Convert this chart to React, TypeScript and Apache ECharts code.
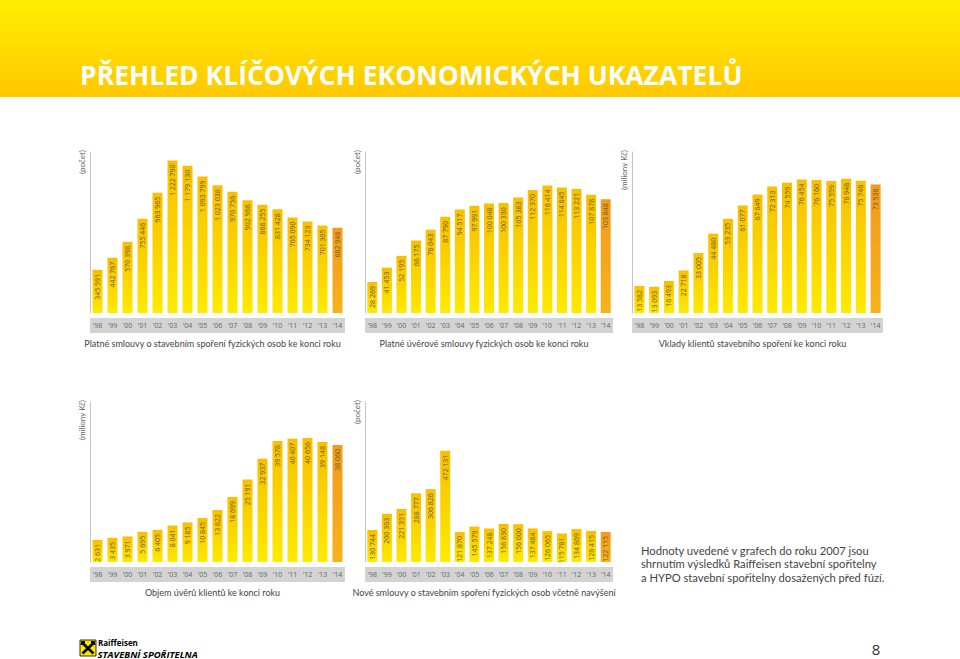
import React, { useEffect, useRef } from "react";
import * as echarts from "echarts";

const years = ["'98", "'99", "'00", "'01", "'02", "'03", "'04", "'05", "'06", "'07", "'08", "'09", "'10", "'11", "'12", "'13", "'14"];
const contracts = [345591, 442767, 570398, 755446, 963965, 1222790, 1179130, 1093799, 1023038, 970756, 902966, 868255, 831428, 765090, 734123, 701305, 682946];
const loanContracts = [28269, 41453, 52195, 66175, 76043, 87790, 94517, 97991, 100048, 100330, 105383, 112370, 116414, 114645, 113221, 107878, 103848];
const deposits = [13582, 13093, 16493, 22718, 33005, 44480, 53235, 61077, 67649, 72313, 74559, 76454, 76160, 75559, 76948, 75746, 73536];
const loanVolume = [2631, 3435, 3971, 5695, 6405, 8041, 9185, 10845, 13822, 18699, 25191, 32937, 39578, 40407, 40656, 39148, 38060];
const newContracts = [130744, 200363, 221351, 288777, 306826, 472131, 121870, 145579, 137248, 156830, 156000, 137484, 126065, 115781, 134869, 126415, 122115];

const units = ["(počet)", "(počet)", "(miliony Kč)", "(miliony Kč)", "(počet)"];
const captions = [
  "Platné smlouvy o stavebním spoření fyzických osob ke konci roku",
  "Platné úvěrové smlouvy fyzických osob ke konci roku",
  "Vklady klientů stavebního spoření ke konci roku",
  "Objem úvěrů klientů ke konci roku",
  "Nové smlouvy o stavebním spoření fyzických osob včetně navýšení",
];
const title = "PŘEHLED KLÍČOVÝCH EKONOMICKÝCH UKAZATELŮ";
const noteLines = [
  "Hodnoty uvedené v grafech do roku 2007 jsou",
  "shrnutím výsledků Raiffeisen stavební spořitelny",
  "a HYPO stavební spořitelny dosažených před fúzí.",
];

const seriesData = [contracts, loanContracts, deposits, loanVolume, newContracts];
const axisMin = [0, 0, -2400, -5560, -7000];
const axisMax = [1290000, 147000, 92700, 54100, 682000];
const layout = [
  { left: 90, top: 152, width: 255, height: 161 },
  { left: 365, top: 152, width: 248, height: 161 },
  { left: 632, top: 152, width: 251, height: 161 },
  { left: 90, top: 402, width: 255, height: 160 },
  { left: 365, top: 402, width: 248, height: 160 },
];

const FONT = '"Open Sans", "DejaVu Sans", sans-serif';
const LIGHT = 'Lato, "Open Sans", sans-serif';
const fmt = (v: number) => String(v).replace(/\B(?=(\d{3})+(?!\d))/g, " ");

export default function App() {
  const ref = useRef<HTMLDivElement>(null);
  useEffect(() => {
    if (!ref.current) return;
    const chart = echarts.init(ref.current, undefined, { renderer: "svg" });
    const yellow = new echarts.graphic.LinearGradient(0, 0, 0, 1, [
      { offset: 0, color: "#F8BF00" },
      { offset: 1, color: "#FFEA00" },
    ]);
    const orange = new echarts.graphic.LinearGradient(0, 0, 0, 1, [
      { offset: 0, color: "#F39A1E" },
      { offset: 1, color: "#F7B21A" },
    ]);

    const grids = layout.map((l) => ({ left: l.left, top: l.top, width: l.width, height: l.height }));
    const xAxes = layout.map((_, i) => ({
      type: "category" as const,
      gridIndex: i,
      data: years,
      offset: 12,
      axisTick: { show: false },
      axisLine: { show: true, onZero: false, lineStyle: { color: "#d3d3d3", width: 15, cap: "butt" } },
      axisLabel: { fontSize: 7, color: "#666", margin: 0, verticalAlign: "middle", fontFamily: FONT, interval: 0 },
    }));
    const yAxes = layout.map((_, i) => ({
      type: "value" as const,
      gridIndex: i,
      min: axisMin[i],
      max: axisMax[i],
      startValue: axisMin[i],
      axisLine: { show: true, onZero: false, lineStyle: { color: "#c4c4c4", width: 1 } },
      axisTick: { show: false },
      axisLabel: { show: false },
      splitLine: { show: false },
    }));
    const series = seriesData.map((d, i) => ({
      type: "bar" as const,
      xAxisIndex: i,
      yAxisIndex: i,
      barWidth: 10,
      itemStyle: { color: yellow },
      data: d.map((v, j) => (j === d.length - 1 ? { value: v, itemStyle: { color: orange } } : v)),
      label: {
        show: true,
        position: "insideTop",
        rotate: 90,
        align: "right",
        verticalAlign: "middle",
        distance: 4,
        fontSize: 7,
        color: "#6e6218",
        fontFamily: FONT,
        formatter: (p: any) => fmt(p.value),
      },
    }));

    const graphics: any[] = [
      {
        type: "rect",
        shape: { x: 0, y: 0, width: 960, height: 97 },
        style: {
          fill: new echarts.graphic.LinearGradient(0, 0, 0, 1, [
            { offset: 0, color: "#FFEE00" },
            { offset: 1, color: "#FFC800" },
          ]),
        },
        silent: true,
      },
      {
        type: "text",
        x: 80,
        y: 75,
        style: { text: title, fill: "#ffffff", fontSize: 26.5, fontWeight: "bold", fontFamily: FONT, verticalAlign: "middle" },
      },
    ];
    layout.forEach((l, i) => {
      graphics.push({
        type: "text",
        x: l.left - 4,
        y: l.top - 2,
        rotation: Math.PI / 2,
        style: { text: units[i], fill: "#666", fontSize: 8, fontFamily: LIGHT, align: "right", verticalAlign: "bottom" },
      });
      graphics.push({
        type: "text",
        x: l.left + l.width / 2 - 5,
        y: l.top + l.height + 30,
        style: { text: captions[i], fill: "#444", fontSize: 9, fontFamily: LIGHT, align: "center", verticalAlign: "middle" },
      });
    });
    noteLines.forEach((t, k) => {
      graphics.push({
        type: "text",
        x: 641,
        y: 550 + k * 13.5,
        style: { text: t, fill: "#444", fontSize: 11.2, fontFamily: LIGHT, verticalAlign: "middle" },
      });
    });
    // logo
    graphics.push(
      { type: "rect", shape: { x: 80, y: 640, width: 16, height: 16 }, style: { fill: "#FFE600", stroke: "#000", lineWidth: 0.8 } },
      { type: "line", shape: { x1: 82.5, y1: 653.5, x2: 93.5, y2: 643 }, style: { stroke: "#000", lineWidth: 2.6 } },
      { type: "line", shape: { x1: 82.5, y1: 643, x2: 93.5, y2: 653.5 }, style: { stroke: "#000", lineWidth: 2.6 } },
      { type: "polyline", shape: { points: [[81.5, 645], [82, 642], [85, 642]] }, style: { stroke: "#000", lineWidth: 1.8, fill: "none" } },
      { type: "polyline", shape: { points: [[94.5, 645], [94, 642], [91, 642]] }, style: { stroke: "#000", lineWidth: 1.8, fill: "none" } },
      { type: "text", x: 98, y: 642.5, style: { text: "Raiffeisen", fill: "#000", fontSize: 8, fontWeight: "bold", fontFamily: FONT, verticalAlign: "middle" } },
      { type: "text", x: 97.5, y: 654, style: { text: "STAVEBNÍ SPOŘITELNA", fill: "#000", fontSize: 9.5, fontWeight: "bold", fontStyle: "italic", fontFamily: FONT, verticalAlign: "middle" } },
      { type: "text", x: 876, y: 649, style: { text: "8", fill: "#333", fontSize: 15, fontFamily: FONT, align: "center", verticalAlign: "middle" } }
    );

    chart.setOption({
      animation: false,
      backgroundColor: "#ffffff",
      grid: grids,
      xAxis: xAxes,
      yAxis: yAxes,
      series,
      graphic: graphics,
    });
    return () => chart.dispose();
  }, []);
  return <div ref={ref} style={{ position: "fixed", left: 0, top: 0, width: 960, height: 659 }} />;
}
